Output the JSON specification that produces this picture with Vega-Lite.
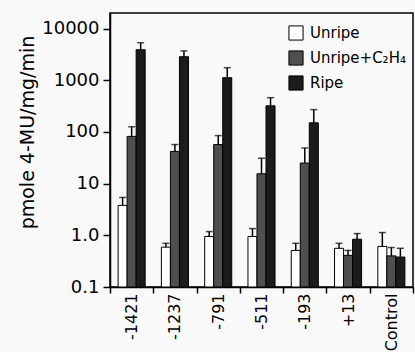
{
  "$schema": "https://vega.github.io/schema/vega-lite/v6.json",
  "width": 303,
  "height": 274,
  "autosize": {"type": "none"},
  "padding": {"left": 110, "top": 13, "right": 2, "bottom": 65},
  "background": "#f9f9f9",
  "config": {
    "font": "DejaVu Sans",
    "view": {"stroke": "black", "strokeWidth": 1.5},
    "axis": {"domainColor": "black", "tickColor": "black", "labelColor": "black", "titleColor": "black", "domainWidth": 1.5, "tickWidth": 1.5, "grid": false}
  },
  "data": {
    "values": [
      {"group": "-1421", "series": "Unripe", "value": 3.8, "err": 5.4},
      {"group": "-1421", "series": "Unripe+C₂H₄", "value": 82, "err": 126},
      {"group": "-1421", "series": "Ripe", "value": 3900, "err": 5300},
      {"group": "-1237", "series": "Unripe", "value": 0.59, "err": 0.7},
      {"group": "-1237", "series": "Unripe+C₂H₄", "value": 42, "err": 57},
      {"group": "-1237", "series": "Ripe", "value": 2850, "err": 3700},
      {"group": "-791", "series": "Unripe", "value": 0.95, "err": 1.18},
      {"group": "-791", "series": "Unripe+C₂H₄", "value": 57, "err": 85},
      {"group": "-791", "series": "Ripe", "value": 1120, "err": 1750},
      {"group": "-511", "series": "Unripe", "value": 0.95, "err": 1.35},
      {"group": "-511", "series": "Unripe+C₂H₄", "value": 15.5, "err": 31},
      {"group": "-511", "series": "Ripe", "value": 320, "err": 460},
      {"group": "-193", "series": "Unripe", "value": 0.51, "err": 0.7},
      {"group": "-193", "series": "Unripe+C₂H₄", "value": 25, "err": 49},
      {"group": "-193", "series": "Ripe", "value": 150, "err": 270},
      {"group": "+13", "series": "Unripe", "value": 0.56, "err": 0.7},
      {"group": "+13", "series": "Unripe+C₂H₄", "value": 0.41, "err": 0.51},
      {"group": "+13", "series": "Ripe", "value": 0.84, "err": 1.08},
      {"group": "Control", "series": "Unripe", "value": 0.61, "err": 1.13},
      {"group": "Control", "series": "Unripe+C₂H₄", "value": 0.4, "err": 0.58},
      {"group": "Control", "series": "Ripe", "value": 0.38, "err": 0.56}
    ]
  },
  "encoding": {
    "x": {
      "field": "group",
      "type": "nominal",
      "sort": ["-1421", "-1237", "-791", "-511", "-193", "+13", "Control"],
      "scale": {"paddingInner": 0, "paddingOuter": 0},
      "axis": {
        "title": null,
        "labelAngle": 270,
        "labelFontSize": 16,
        "tickBand": "extent",
        "tickSize": 6,
        "labelPadding": 0
      }
    },
    "xOffset": {
      "field": "series",
      "type": "nominal",
      "sort": ["Unripe", "Unripe+C₂H₄", "Ripe"],
      "scale": {"paddingInner": 0, "paddingOuter": 0.9}
    }
  },
  "layer": [
    {
      "mark": {"type": "bar", "stroke": "black", "strokeWidth": 1},
      "encoding": {
        "y": {
          "field": "value",
          "type": "quantitative",
          "scale": {"type": "log", "domain": [0.1, 20000], "nice": false},
          "axis": {
            "title": "pmole 4-MU/mg/min",
            "titleFontSize": 19,
            "titleFontWeight": "normal",
            "titleX": -73,
            "titleY": 119,
            "titleBaseline": "bottom",
            "values": [0.1, 1, 10, 100, 1000, 10000],
            "labelExpr": "datum.value < 0.5 ? '0.1' : datum.value < 5 ? '1.0' : format(datum.value, 'd')",
            "labelFontSize": 18,
            "tickSize": 7,
            "labelPadding": 4
          }
        },
        "y2": {"datum": 0.1},
        "fill": {
          "field": "series",
          "type": "nominal",
          "sort": ["Unripe", "Unripe+C₂H₄", "Ripe"],
          "scale": {"domain": ["Unripe", "Unripe+C₂H₄", "Ripe"], "range": ["#ffffff", "#4f4f4f", "#1c1c1c"]},
          "legend": {
            "title": null,
            "orient": "none",
            "legendX": 178,
            "legendY": 12,
            "padding": 0,
            "symbolType": "square",
            "symbolSize": 200,
            "symbolStrokeColor": "black",
            "symbolStrokeWidth": 1,
            "labelFontSize": 15,
            "labelColor": "black",
            "rowPadding": 5,
            "labelOffset": 6
          }
        }
      }
    },
    {
      "mark": {"type": "rule", "color": "black", "strokeWidth": 1.5},
      "encoding": {
        "y": {"field": "value", "type": "quantitative"},
        "y2": {"field": "err"}
      }
    },
    {
      "mark": {"type": "tick", "color": "black", "thickness": 1.5, "size": 7},
      "encoding": {
        "y": {"field": "err", "type": "quantitative"}
      }
    }
  ]
}
